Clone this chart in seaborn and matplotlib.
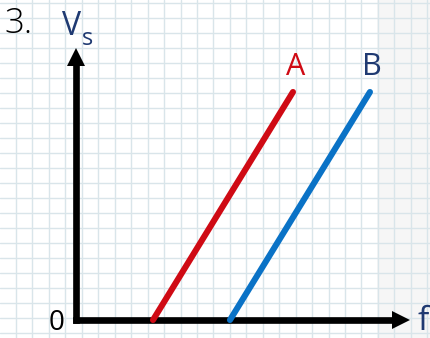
import matplotlib
matplotlib.use("Agg")
import matplotlib.pyplot as plt
import numpy as np
import pandas as pd
import seaborn as sns

# Photoelectric effect: stopping voltage vs frequency for two metals
freq_A = [4.68, 13.19]
vs_A = [0.0, 15.2]
freq_B = [9.36, 17.87]
vs_B = [0.0, 15.2]
series_labels = ["A", "B"]

F_TIP = 20.3   # end of frequency axis arrow
V_TIP = 18.13  # end of voltage axis arrow

RED = "#cf0a14"
BLUE = "#0a72c6"
NAVY = "#1f3a72"
GRID = "#d9e5ea"

W, H = 430, 338
X0, Y0 = 76.0, 320.0      # origin in pixels
SX, SY = 16.45, 15.0      # pixels per grid cell

df = pd.DataFrame({
    "f": freq_A + freq_B,
    "Vs": vs_A + vs_B,
    "metal": [series_labels[0]] * len(freq_A) + [series_labels[1]] * len(freq_B),
})

sns.set_theme(style="white")
plt.rcParams["font.family"] = ["Open Sans", "DejaVu Sans"]

fig = plt.figure(figsize=(W / 100, H / 100), dpi=100)
ax = fig.add_axes([0, 0, 1, 1])
xlim = (-X0 / SX, (W - X0) / SX)
ylim = (-(H - Y0) / SY, Y0 / SY)
for s in ax.spines.values():
    s.set_visible(False)

# the two metals
sns.lineplot(data=df, x="f", y="Vs", hue="metal",
             palette={series_labels[0]: RED, series_labels[1]: BLUE},
             lw=4.4, solid_capstyle="round", legend=False, ax=ax, zorder=4,
             estimator=None, sort=False)
ax.set_xlabel("")
ax.set_ylabel("")

# graph-paper background
ax.axvspan((377 - X0) / SX, (W - X0) / SX, color="#f6f6f6", zorder=0, lw=0)
xg = (16 - X0) / SX + np.arange(-2, 30)
yg = (Y0 - 153) / SY + np.arange(-30, 30)
ax.set_xticks(xg)
ax.set_yticks(yg)
ax.tick_params(length=0, labelbottom=False, labelleft=False)
ax.grid(True, color=GRID, lw=1.0)
ax.set_axisbelow(True)

# axes with arrowheads
lw_axis = 4.8
ax.plot([0, 0], [0, V_TIP - 17 / SY], color="black", lw=lw_axis,
        solid_capstyle="projecting", zorder=3)
ax.plot([0, F_TIP - 17 / SX], [0, 0], color="black", lw=lw_axis,
        solid_capstyle="projecting", zorder=3)
ax.plot([0], [V_TIP - 8.5 / SY], marker="^", ms=12.4, color="black",
        mew=0, zorder=3)
ax.plot([F_TIP - 8.5 / SX], [0], marker=">", ms=12.4, color="black",
        mew=0, zorder=3)

# line labels
ax.text(freq_A[-1] + 0.15, vs_A[-1] + 1.13, series_labels[0], color=RED,
        fontsize=22, ha="center", va="baseline", zorder=5)
ax.text(freq_B[-1] + 0.1, vs_B[-1] + 1.13, series_labels[1], color=NAVY,
        fontsize=22, ha="center", va="baseline", zorder=5)

ax.set_xlim(*xlim)
ax.set_ylim(*ylim)


def px(x, y):
    return x / W, 1 - y / H


fig.text(*px(4, 33), "3.", fontsize=25, color="black", fontweight="light",
         ha="left", va="baseline")
fig.text(*px(62, 35), "V", fontsize=23, color=NAVY, ha="left", va="baseline")
fig.text(*px(82, 45), "s", fontsize=17, color=NAVY, ha="left", va="baseline")
fig.text(*px(49, 337), "0", fontsize=20, color="black", ha="left", va="bottom")
fig.text(*px(418, 330), "f", fontsize=24, color=NAVY, ha="left", va="baseline")

fig.savefig("out.png", dpi=100)
